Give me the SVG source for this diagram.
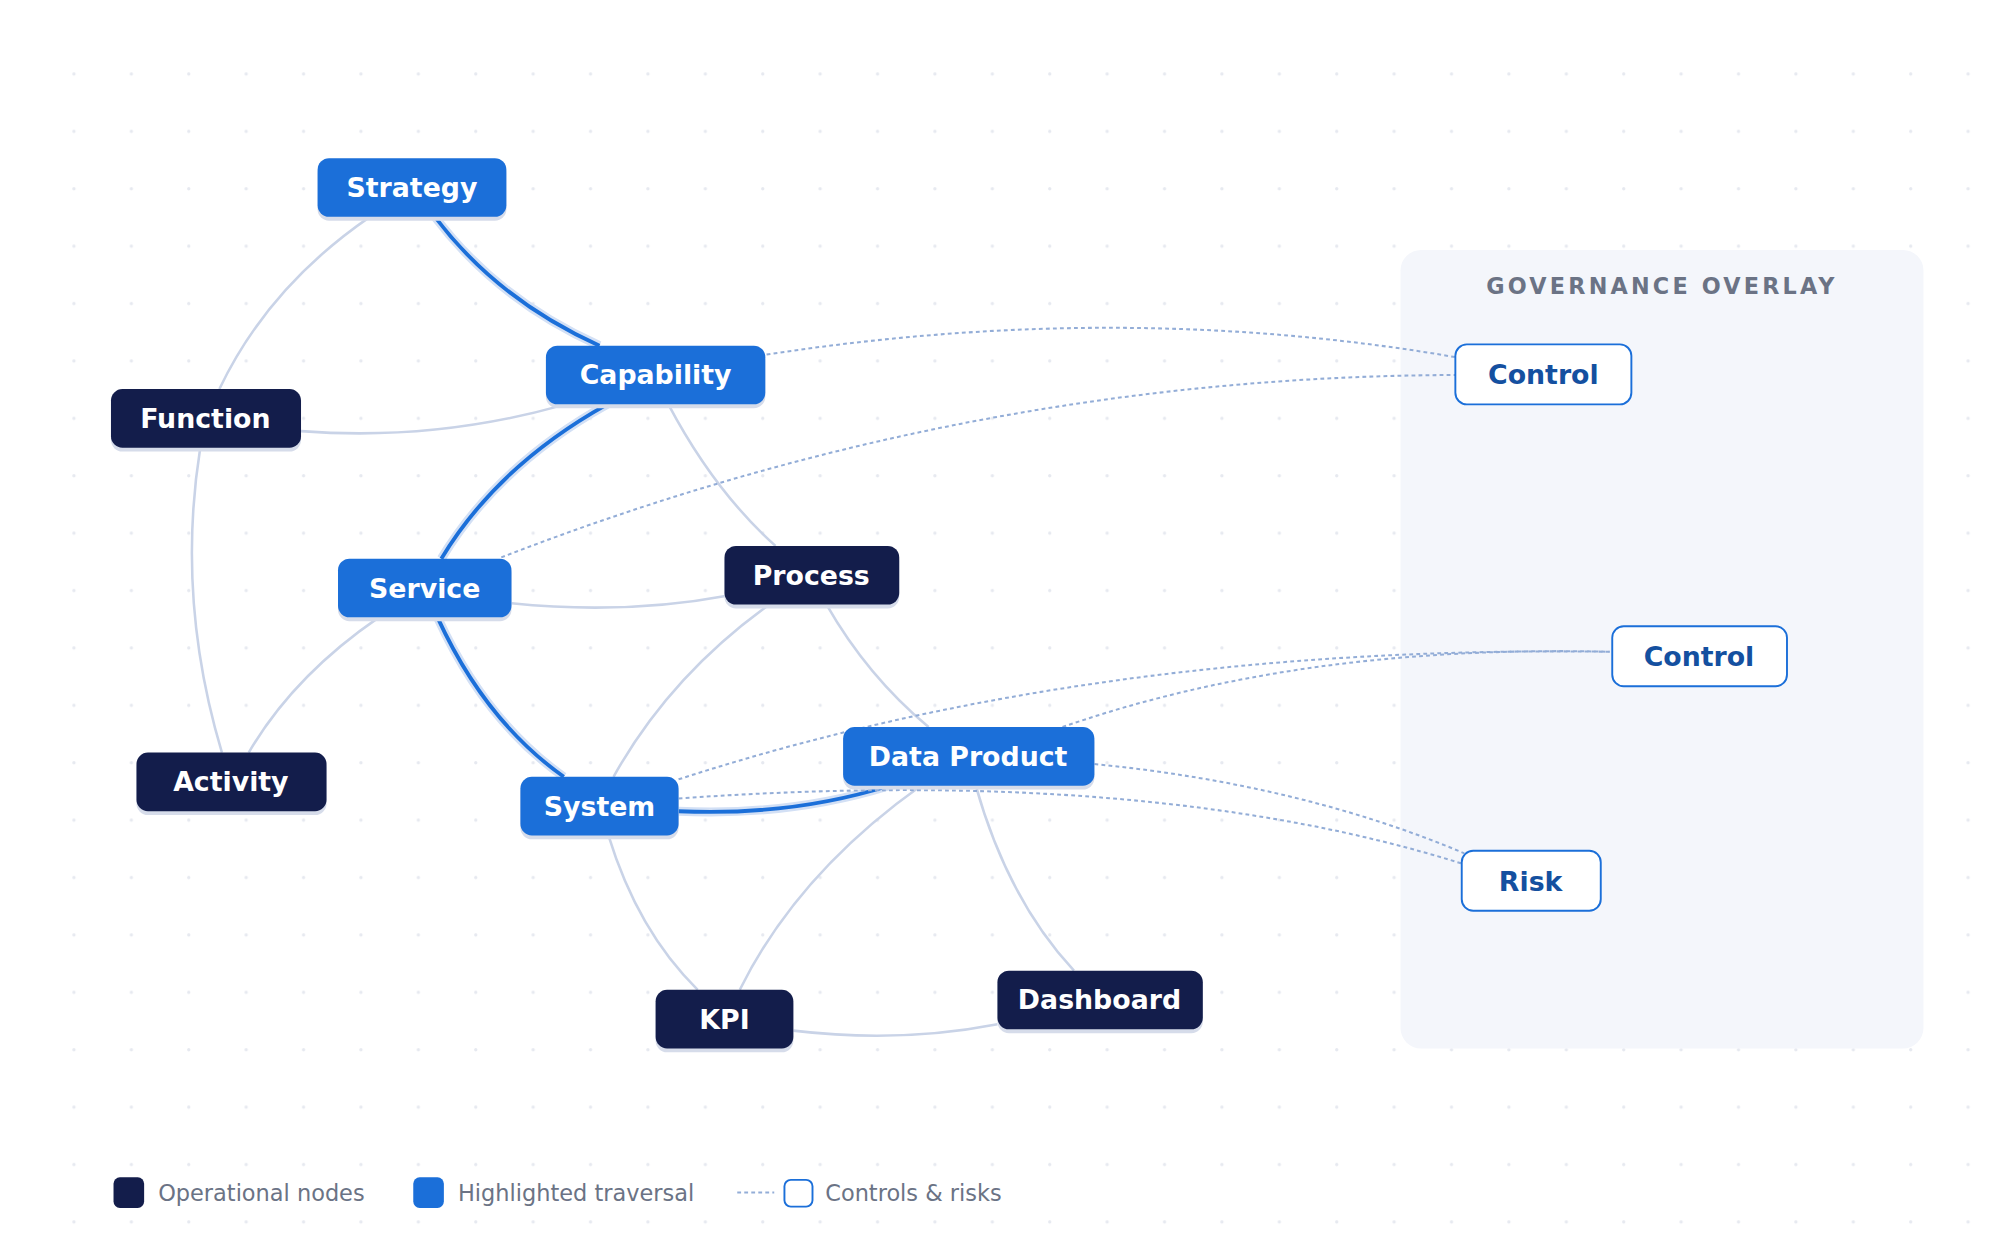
<svg xmlns="http://www.w3.org/2000/svg" width="2000" height="1250" viewBox="0 0 2000 1250">
<style>
text{font-family:"DejaVu Sans","Liberation Sans",sans-serif}
.lbl{font-size:21px;font-weight:bold;fill:#fff;text-anchor:middle;dominant-baseline:central}
.glbl{font-size:21px;font-weight:bold;fill:#1450a0;text-anchor:middle;dominant-baseline:central}
.dark{fill:#131d4b}
.blue{fill:#1b6fd9}
.gov{fill:#fff;stroke:#1b6fd9;stroke-width:1.5}
.sh{fill:#d6dcea}
.e{fill:none;stroke:#c9d3e7;stroke-width:2}
.h{fill:none;stroke:#1b6fd9;stroke-width:3}
.hh{fill:none;stroke:#d3e0f5;stroke-width:7}
.d{fill:none;stroke:#93add7;stroke-width:1.6;stroke-dasharray:3 2.5}
.leg{font-size:17.6px;fill:#6b7385}
</style>
<defs>
<pattern id="dots" x="0" y="0" width="45" height="45" patternUnits="userSpaceOnUse">
<circle cx="13" cy="13" r="1.3" fill="#e6e9f0"/>
</pattern>
</defs>
<rect width="2000" height="1250" fill="#fff"/>
<g transform="scale(1.27551)">
<rect x="45" y="45" width="1530" height="930" fill="url(#dots)"/>
<rect x="1098" y="196" width="410" height="626" rx="16" fill="#f4f6fb"/>
<text x="1303" y="224" text-anchor="middle" dominant-baseline="central" style="font-size:17.5px;font-weight:bold;fill:#6b7385;letter-spacing:2.5px">GOVERNANCE OVERLAY</text>
<g id="connectors">
<path class="e" d="M290,170 Q210,225 172,305"/>
<path class="e" d="M236,338 Q340,346 440,318"/>
<path class="e" d="M157,351 Q138,470 174,590"/>
<path class="e" d="M524,317 Q560,385 608,428"/>
<path class="e" d="M401,473 Q490,482 570,467"/>
<path class="e" d="M297,484 Q230,530 195,590"/>
<path class="e" d="M603,474 Q525,530 481,609"/>
<path class="e" d="M648,474 Q680,530 728,570"/>
<path class="e" d="M477,655 Q500,730 547,776"/>
<path class="e" d="M722,616 Q625,685 580,776"/>
<path class="e" d="M765,616 Q790,705 842,761"/>
<path class="e" d="M622,808 Q705,818 782,803"/>
<path class="hh" d="M341,170 Q390,235 470,271"/>
<path class="hh" d="M476,317 Q390,365 346,438"/>
<path class="hh" d="M343,484 Q380,565 442,609"/>
<path class="hh" d="M532,636 Q620,640 697,616"/>
<path class="h" d="M341,170 Q390,235 470,271"/>
<path class="h" d="M476,317 Q390,365 346,438"/>
<path class="h" d="M343,484 Q380,565 442,609"/>
<path class="h" d="M532,636 Q620,640 697,616"/>
<path class="d" d="M601,278 Q880,235 1141,280"/>
<path class="d" d="M393,437 Q760,295 1141,294"/>
<path class="d" d="M532,611 Q860,505 1262,511"/>
<path class="d" d="M833,570 Q1020,505 1262,511"/>
<path class="d" d="M858,599 Q1020,615 1148,669"/>
<path class="d" d="M532,626 Q900,600 1146,677"/>
</g>
<g id="strategy"><rect class="sh" x="249" y="127" width="148" height="46" rx="9"/><rect class="blue" x="249" y="124" width="148" height="46" rx="9"/><text class="lbl" x="323" y="147">Strategy</text></g>
<g id="capability"><rect class="sh" x="428" y="274" width="172" height="46" rx="9"/><rect class="blue" x="428" y="271" width="172" height="46" rx="9"/><text class="lbl" x="514" y="294">Capability</text></g>
<g id="function"><rect class="sh" x="87" y="308" width="149" height="46" rx="9"/><rect class="dark" x="87" y="305" width="149" height="46" rx="9"/><text class="lbl" x="161" y="328">Function</text></g>
<g id="service"><rect class="sh" x="265" y="441" width="136" height="46" rx="9"/><rect class="blue" x="265" y="438" width="136" height="46" rx="9"/><text class="lbl" x="333" y="461">Service</text></g>
<g id="process"><rect class="sh" x="568" y="431" width="137" height="46" rx="9"/><rect class="dark" x="568" y="428" width="137" height="46" rx="9"/><text class="lbl" x="636" y="451">Process</text></g>
<g id="activity"><rect class="sh" x="107" y="593" width="149" height="46" rx="9"/><rect class="dark" x="107" y="590" width="149" height="46" rx="9"/><text class="lbl" x="181" y="613">Activity</text></g>
<g id="system"><rect class="sh" x="408" y="612" width="124" height="46" rx="9"/><rect class="blue" x="408" y="609" width="124" height="46" rx="9"/><text class="lbl" x="470" y="632">System</text></g>
<g id="dataproduct"><rect class="sh" x="661" y="573" width="197" height="46" rx="9"/><rect class="blue" x="661" y="570" width="197" height="46" rx="9"/><text class="lbl" x="759" y="593">Data Product</text></g>
<g id="kpi"><rect class="sh" x="514" y="779" width="108" height="46" rx="9"/><rect class="dark" x="514" y="776" width="108" height="46" rx="9"/><text class="lbl" x="568" y="799">KPI</text></g>
<g id="dashboard"><rect class="sh" x="782" y="764" width="161" height="46" rx="9"/><rect class="dark" x="782" y="761" width="161" height="46" rx="9"/><text class="lbl" x="862" y="784">Dashboard</text></g>
<g id="control1"><rect class="gov" x="1141" y="270" width="138" height="47" rx="9"/><text class="glbl" x="1210" y="294">Control</text></g>
<g id="control2"><rect class="gov" x="1264" y="491" width="137" height="47" rx="9"/><text class="glbl" x="1332" y="515">Control</text></g>
<g id="risk"><rect class="gov" x="1146" y="667" width="109" height="47" rx="9"/><text class="glbl" x="1200" y="691">Risk</text></g>
<g id="legend">
<rect class="dark" x="89" y="923" width="24" height="24" rx="5"/><text class="leg" x="124" y="935" dominant-baseline="central">Operational nodes</text>
<rect class="blue" x="324" y="923" width="24" height="24" rx="5"/><text class="leg" x="359" y="935" dominant-baseline="central">Highlighted traversal</text>
<line class="d" x1="578" y1="935" x2="607" y2="935"/>
<rect class="gov" x="615" y="925" width="22" height="21" rx="5"/><text class="leg" x="647" y="935" dominant-baseline="central">Controls &amp; risks</text>
</g>
</g>
</svg>
